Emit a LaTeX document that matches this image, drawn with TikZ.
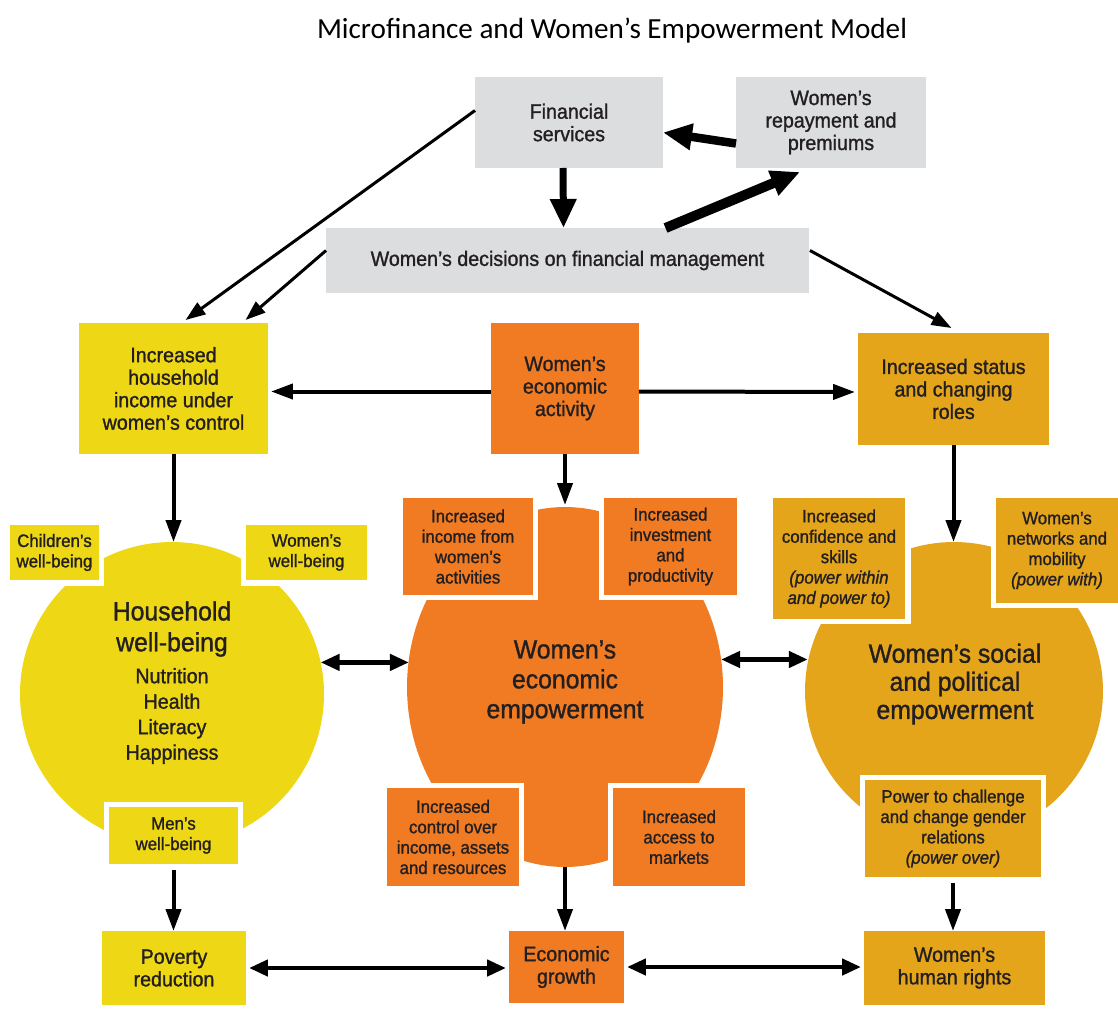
\documentclass[tikz,border=0pt]{standalone}
\usepackage{fontspec}
\usetikzlibrary{arrows.meta,calc,shapes.geometric}
\newfontfamily\nar[FakeStretch=0.94,FakeBold=1.2]{Liberation Sans}
\newfontfamily\ttl{Carlito}
\definecolor{gr}{HTML}{DCDDDF}
\definecolor{yl}{HTML}{EED715}
\definecolor{orn}{HTML}{F07B22}
\definecolor{gld}{HTML}{E4A51B}
\definecolor{txt}{HTML}{231F20}
\begin{document}
\begin{tikzpicture}[x=0.02cm,y=-0.02cm,
  bx/.style={rectangle, inner sep=0pt, outer sep=0pt, align=center, text=txt,
    font=\nar\fontsize{11.9}{12.8}\selectfont},
  sbx/.style={bx, font=\nar\fontsize{10.2}{11.6}\selectfont,
    preaction={draw=white, line width=0.22cm}},
  big/.style={align=center, text=txt, inner sep=0pt, font=\nar\fontsize{15}{17.6}\selectfont},
  blob/.style={inner sep=0pt, outer sep=0pt},
  thinar/.style={line width=0.06cm, -{Triangle[length=0.4cm,width=0.28cm]}},
  midar/.style={line width=0.08cm, -{Triangle[length=0.44cm,width=0.3cm]}},
  dblar/.style={line width=0.09cm, {Triangle[length=0.38cm,width=0.32cm]}-{Triangle[length=0.38cm,width=0.32cm]}},
  fatar/.style={line width=#1, -{Triangle[length=0.58cm,width=0.5cm]}},
]
\useasboundingbox (0,0) rectangle (1118,1034);
\fill[white] (0,0) rectangle (1118,1034);

% title
\node[anchor=base, font=\ttl\fontsize{16.6}{19}\selectfont] (title) at (612,39) {Microfinance and Women’s Empowerment Model};

% top boxes
\node[bx, fill=gr, minimum width=3.76cm, minimum height=1.82cm] (fin) at (569,122.5) {Financial\\services};
\node[bx, fill=gr, minimum width=3.8cm, minimum height=1.82cm] (rep) at (831,122.5) {Women’s\\repayment and\\premiums};
\node[bx, fill=gr, minimum width=9.66cm, minimum height=1.3cm] (dec) at (567.5,260.5) {Women’s decisions on financial management};

% second row
\node[bx, fill=yl, minimum width=3.78cm, minimum height=2.62cm] (hinc) at (173.5,388.5) {Increased\\household\\income under\\women’s control};
\node[bx, fill=orn, minimum width=2.96cm, minimum height=2.62cm] (act) at (565,388.5) {Women’s\\economic\\activity};
\node[bx, fill=gld, minimum width=3.82cm, minimum height=2.24cm] (stat) at (953.5,389) {Increased status\\and changing\\roles};

% big shapes
\node[blob, circle, fill=yl, minimum size=6.08cm] (hh) at (172,694) {};
\node[blob, ellipse, fill=orn, minimum width=6.32cm, minimum height=7.2cm] (econ) at (565,687) {};
\node[blob, circle, fill=gld, minimum size=5.96cm] (sp) at (954,691) {};

% small boxes around the shapes
\node[sbx, fill=yl, minimum width=1.78cm, minimum height=1.1cm] (chi) at (54.5,552.5) {Children’s\\well-being};
\node[sbx, fill=yl, minimum width=2.42cm, minimum height=1.1cm] (wom) at (306.5,552.5) {Women’s\\well-being};
\node[sbx, fill=yl, minimum width=2.58cm, minimum height=1.14cm] (men) at (173.5,835.5) {Men’s\\well-being};

\node[sbx, fill=orn, minimum width=2.6cm, minimum height=1.94cm] (inc) at (468,546.5) {Increased\\income from\\women’s\\activities};
\node[sbx, fill=orn, minimum width=2.66cm, minimum height=1.94cm] (inv) at (670.5,546.5) {Increased\\investment\\and\\productivity};
\node[sbx, fill=orn, minimum width=2.64cm, minimum height=1.96cm] (ctl) at (453,837) {Increased\\control over\\income, assets\\and resources};
\node[sbx, fill=orn, minimum width=2.64cm, minimum height=1.96cm] (acc) at (679,837) {Increased\\access to\\markets};

\node[sbx, fill=gld, minimum width=2.64cm, minimum height=2.42cm] (conf) at (839,558.5) {Increased\\confidence and\\skills\\\textit{(power within}\\\textit{and power to)}};
\node[sbx, fill=gld, minimum width=2.44cm, minimum height=2.1cm] (net) at (1057,550.5) {Women’s\\networks and\\mobility\\\textit{(power with)}};
\node[sbx, fill=gld, minimum width=3.52cm, minimum height=1.94cm] (pow) at (953,828.5) {Power to challenge\\and change gender\\relations\\\textit{(power over)}};

% texts in shapes
\node[big] (hht) at (172,629) {Household\\well-being};
\node[bx, font=\nar\fontsize{11.9}{14.5}\selectfont] (hhs) at (172,716) {Nutrition\\Health\\Literacy\\Happiness};
\node[big, font=\nar\fontsize{15}{17}\selectfont] (econt) at (565,682) {Women’s\\economic\\empowerment};
\node[big, font=\nar\fontsize{15}{16}\selectfont] (spt) at (955,684) {Women’s social\\and political\\empowerment};

% bottom boxes
\node[bx, fill=yl, minimum width=2.88cm, minimum height=1.48cm] (pov) at (174,968) {Poverty\\reduction};
\node[bx, fill=orn, minimum width=2.3cm, minimum height=1.44cm] (gro) at (566.5,967) {Economic\\growth};
\node[bx, fill=gld, minimum width=3.62cm, minimum height=1.48cm] (rig) at (954.5,968) {Women’s\\human rights};

% connectors
\draw[fatar=0.14cm] ($(fin.south)+(-6,0)$) -- ($(dec.north)+(-4,0)$);
\draw[fatar=0.2cm] ($(dec.north)+(98,0)$) -- ($(rep.south)+(-31,4)$);
\draw[fatar=0.17cm] ($(rep.west)+(0,21)$) -- ($(fin.east)+(0,10)$);

\draw[thinar] ($(fin.west)+(0,-12)$) -- ($(hinc.north)+(12,-3)$);
\draw[thinar] ($(dec.west)+(0,-10)$) -- ($(hinc.north)+(72,-3)$);
\draw[thinar] ($(dec.east)+(1,-10)$) -- ($(stat.north)+(-2,-5)$);

\draw[midar] ($(act.west)+(0,3)$) -- ($(hinc.east)+(3,3)$);
\draw[midar] ($(act.east)+(0,3)$) -- ($(stat.west)+(-3,3)$);
\draw[midar, shorten >=0.04cm] (act.south) -- (econ.north);
\draw[midar] (hinc.south) -- (hinc.south |- hh.north);
\draw[midar] (stat.south) -- (stat.south |- sp.north);

\draw[dblar] (hh.12) -- (econ.170 |- hh.12);
\draw[dblar] (econ.10) -- (sp.169 |- econ.10);

\draw[midar, shorten <=0.12cm] (men.south) -- (men.south |- pov.north);
\draw[midar] (econ.south) -- (econ.south |- gro.north);
\draw[midar, shorten <=0.12cm] (pow.south) -- (pow.south |- rig.north);

\draw[dblar, shorten <=0.06cm, shorten >=0.06cm] (pov.east) -- (pov.east -| gro.west);
\draw[dblar, shorten <=0.06cm, shorten >=0.06cm] (gro.east) -- (gro.east -| rig.west);
\end{tikzpicture}
\end{document}
